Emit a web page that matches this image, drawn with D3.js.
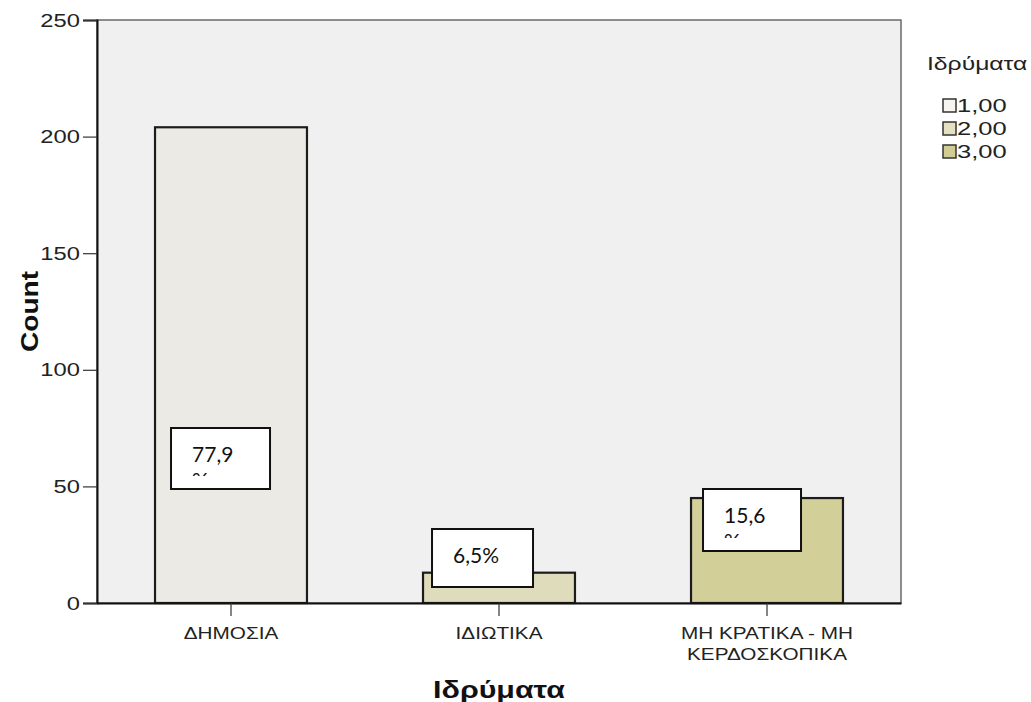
<!DOCTYPE html>
<html>
<head>
<meta charset="utf-8">
<script src="https://cdn.jsdelivr.net/npm/d3@7"></script>
<style>
  body { margin: 0; background: #fff; }
  svg { display: block; }
</style>
</head>
<body>
<svg id="chart"></svg>
<script>
// chart data
const categories = ['ΔΗΜΟΣΙΑ', 'ΙΔΙΩΤΙΚΑ', 'ΜΗ ΚΡΑΤΙΚΑ - ΜΗ ΚΕΡΔΟΣΚΟΠΙΚΑ'];
const counts = [204, 13, 45];
const groupCodes = ['1,00', '2,00', '3,00'];
const yTicks = [0, 50, 100, 150, 200, 250];
// text-box notes pasted over the bars (already wrapped, second line mostly cut off)
const noteLines = [['77,9', '%'], ['6,5%'], ['15,6', '%']];

const width = 1031;
const height = 702;
const plot = { left: 97, right: 901, top: 20, bottom: 603 };
const fills = ['#ebeae5', '#dfdcbb', '#d3cf99'];
const legendFills = ['#f6f5ef', '#e4e1c3', '#d1cc92'];
const axisFont = '"Liberation Sans", Arial, sans-serif';

const svg = d3.select('#chart')
  .attr('width', width)
  .attr('height', height)
  .attr('viewBox', `0 0 ${width} ${height}`);

// SPSS output text is drawn a bit wide, so stretch it horizontally
function wideText(parent, x, y, str, size, sx, anchor, bold) {
  return parent.append('g')
    .attr('transform', `translate(${x},${y}) scale(${sx},1)`)
    .append('text')
    .attr('text-anchor', anchor || 'start')
    .attr('font-family', axisFont)
    .attr('font-size', size)
    .attr('font-weight', bold ? 'bold' : 'normal')
    .attr('fill', bold ? '#111' : '#222')
    .text(str);
}

const x = d3.scaleBand()
  .domain(categories)
  .range([plot.left, plot.right])
  .paddingInner(0.433)
  .paddingOuter(0.2165);

const y = d3.scaleLinear()
  .domain([0, 250])
  .range([plot.bottom, plot.top]);

// plot background + frame
svg.append('rect')
  .attr('x', plot.left)
  .attr('y', plot.top)
  .attr('width', plot.right - plot.left)
  .attr('height', plot.bottom - plot.top)
  .attr('fill', '#f0f0f0')
  .attr('stroke', '#6a6a6a')
  .attr('stroke-width', 1.5);

// bars
svg.append('g')
  .selectAll('rect')
  .data(categories)
  .join('rect')
  .attr('x', d => x(d))
  .attr('y', (d, i) => y(counts[i]))
  .attr('width', x.bandwidth())
  .attr('height', (d, i) => y(0) - y(counts[i]))
  .attr('fill', (d, i) => fills[i])
  .attr('stroke', '#1c1c1c')
  .attr('stroke-width', 2.2);

// y axis
const yAxis = svg.append('g')
  .attr('transform', `translate(${plot.left},0)`)
  .call(d3.axisLeft(y).tickValues(yTicks).tickSize(14));
yAxis.select('.domain').attr('stroke', '#111').attr('stroke-width', 2);
yAxis.selectAll('.tick line').attr('stroke', '#333').attr('stroke-width', 1.2);
yAxis.selectAll('.tick text').remove();
yAxis.selectAll('.tick').each(function (d) {
  wideText(d3.select(this), -17, 6, d3.format('d')(d), 18, 1.32, 'end');
});

// x axis
const xAxis = svg.append('g')
  .attr('transform', `translate(0,${plot.bottom})`)
  .call(d3.axisBottom(x).tickSize(13).tickSizeOuter(0));
xAxis.select('.domain').attr('stroke', '#111').attr('stroke-width', 2);
xAxis.selectAll('.tick line').attr('stroke', '#333').attr('stroke-width', 1.2);
xAxis.selectAll('.tick text').remove();
xAxis.selectAll('.tick').each(function (d) {
  const lines = d.length > 15 ? ['ΜΗ ΚΡΑΤΙΚΑ - ΜΗ', 'ΚΕΡΔΟΣΚΟΠΙΚΑ'] : [d];
  lines.forEach((w, i) => {
    wideText(d3.select(this), 0, 36 + i * 21, w, 17, 1.22, 'middle');
  });
});

// axis titles
svg.append('g')
  .attr('transform', `translate(38,${(plot.top + plot.bottom) / 2}) rotate(-90)`)
  .call(g => wideText(g, 0, 0, 'Count', 23, 1.22, 'middle', true));

wideText(svg, (plot.left + plot.right) / 2, 698, 'Ιδρύματα', 23, 1.32, 'middle', true);

// legend
const legend = svg.append('g').attr('transform', 'translate(927,0)');
wideText(legend, 0, 70, 'Ιδρύματα', 19, 1.3, 'start');
groupCodes.forEach((code, i) => {
  const row = legend.append('g').attr('transform', `translate(16,${99 + i * 23})`);
  row.append('rect')
    .attr('width', 13)
    .attr('height', 13)
    .attr('fill', legendFills[i])
    .attr('stroke', '#333')
    .attr('stroke-width', 1.5);
  wideText(row, 14, 13, code, 18, 1.42, 'start');
});

// white note boxes, offsets taken from each bar
const noteBoxes = [
  { dx: 16, top: 428, w: 99, h: 61 },
  { dx: 9, top: 529, w: 101, h: 58 },
  { dx: 12, top: 489, w: 98, h: 62 }
];
const defs = svg.append('defs');
categories.forEach((c, i) => {
  const b = noteBoxes[i];
  const bx = x(c) + b.dx;
  defs.append('clipPath').attr('id', `note-clip-${i}`)
    .append('rect')
    .attr('x', bx)
    .attr('y', b.top)
    .attr('width', b.w)
    .attr('height', b.h - 13);
  const g = svg.append('g');
  g.append('rect')
    .attr('x', bx)
    .attr('y', b.top)
    .attr('width', b.w)
    .attr('height', b.h)
    .attr('fill', '#fff')
    .attr('stroke', '#111')
    .attr('stroke-width', 2);
  const t = g.append('text')
    .attr('clip-path', `url(#note-clip-${i})`)
    .attr('font-family', 'Lato, "Open Sans", sans-serif')
    .attr('font-size', 21)
    .attr('fill', '#111');
  noteLines[i].forEach((line, j) => {
    t.append('tspan')
      .attr('x', bx + 21)
      .attr('y', b.top + 34 + j * 26)
      .text(line);
  });
});
</script>
</body>
</html>
